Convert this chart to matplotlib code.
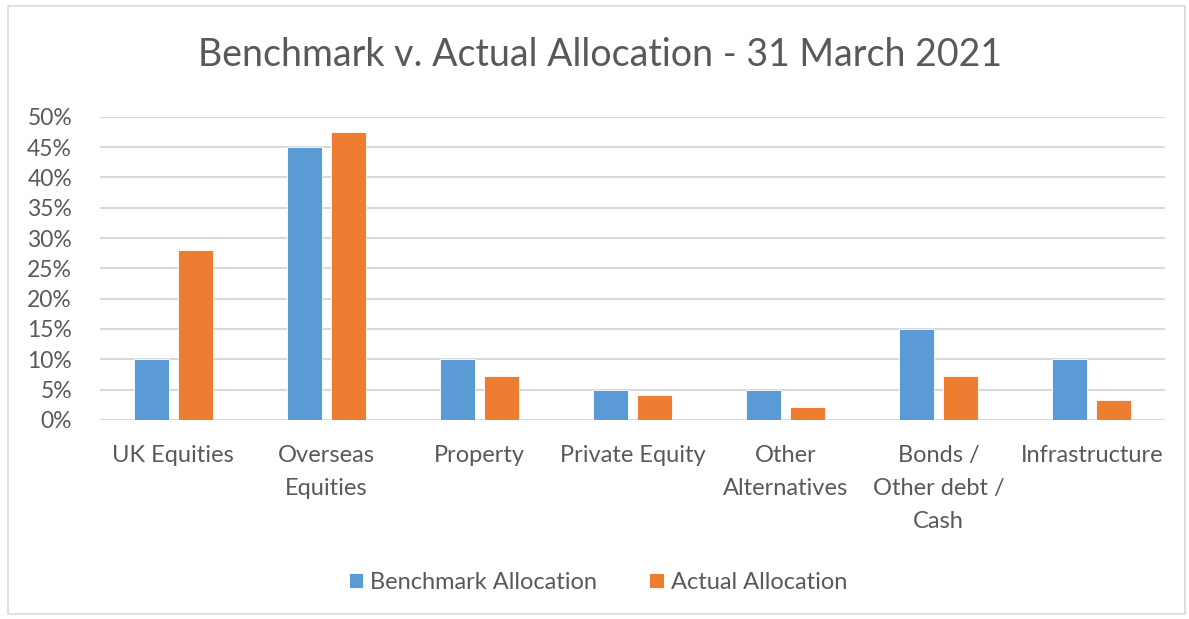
import numpy as np
import matplotlib.pyplot as plt
from matplotlib.patches import Rectangle
from matplotlib.ticker import PercentFormatter

categories = ['UK Equities', 'Overseas\nEquities', 'Property', 'Private Equity',
              'Other\nAlternatives', 'Bonds /\nOther debt /\nCash', 'Infrastructure']
benchmark = [10.0, 45.0, 10.0, 5.0, 5.0, 15.0, 10.0]
actual = [28.0, 47.5, 7.3, 4.2, 2.1, 7.3, 3.3]
yticks = [0, 5, 10, 15, 20, 25, 30, 35, 40, 45, 50]

blue = '#5B9BD5'
orange = '#ED7D31'
grey_text = '#595959'

plt.rcParams['font.family'] = ['Lato', 'DejaVu Sans']

fig = plt.figure(figsize=(11.89, 6.19), dpi=100)
fig.patches.append(Rectangle((0.007, 0.008), 0.99, 0.982, transform=fig.transFigure,
                             fill=False, edgecolor='#d9d9d9', linewidth=1.2))
ax = fig.add_axes([0.084, 0.3215, 0.896, 0.49])

x = np.arange(len(categories))
w = 0.228
gap = 0.03
ax.bar(x - w / 2 - gap, benchmark, w, color=blue, edgecolor='white', linewidth=0.6,
       label='Benchmark Allocation', zorder=3)
ax.bar(x + w / 2 + gap, actual, w, color=orange, edgecolor='white', linewidth=0.6,
       label='Actual Allocation', zorder=3)

ax.set_xlim(-0.48, len(categories) - 0.52)
ax.set_ylim(0, 50)
ax.set_yticks(yticks)
ax.yaxis.set_major_formatter(PercentFormatter(decimals=0))
ax.yaxis.grid(True, color='#d9d9d9', linewidth=1.5, zorder=0)
ax.set_xticks(x)
ax.set_xticklabels(categories, va='top', linespacing=1.72)
ax.tick_params(axis='both', length=0, colors=grey_text)
ax.tick_params(axis='x', pad=18, labelsize=17)
ax.tick_params(axis='y', pad=20, labelsize=16.5)
for s in ax.spines.values():
    s.set_visible(False)

fig.text(0.505, 0.911, 'Benchmark v. Actual Allocation - 31 March 2021',
         ha='center', va='center', fontsize=27, color=grey_text)
fig.legend(loc='center', bbox_to_anchor=(0.503, 0.059), ncol=2, frameon=False,
           fontsize=17, labelcolor=grey_text, handlelength=0.6, handleheight=0.6,
           handletextpad=0.3, columnspacing=2.2)

fig.savefig('out.png', dpi=100)
